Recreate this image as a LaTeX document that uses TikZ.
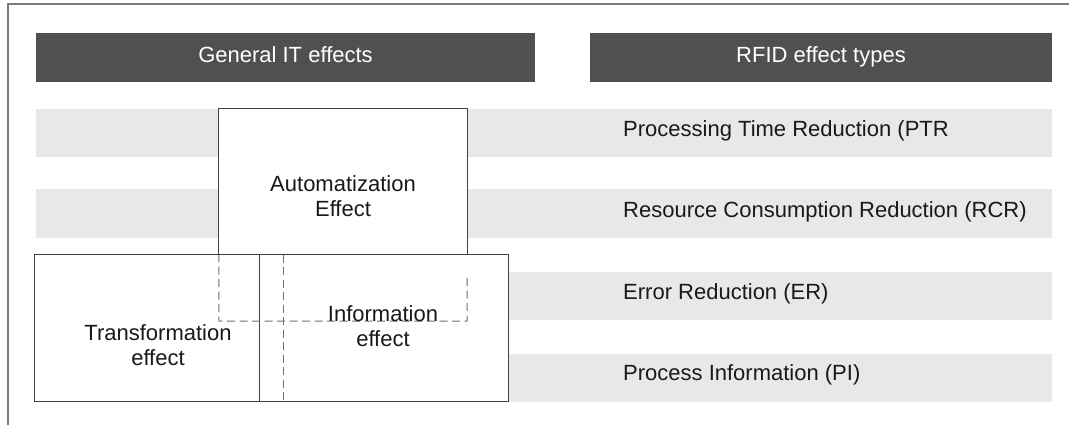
\documentclass[tikz,border=0pt]{standalone}
\usepackage{fontspec}
\setmainfont{Liberation Sans}
\definecolor{barcol}{HTML}{505050}
\definecolor{bandcol}{HTML}{E8E8E8}
\definecolor{framecol}{HTML}{7A7A7A}
\definecolor{boxline}{HTML}{404040}
\definecolor{dashcol}{HTML}{707070}
\tikzset{
  bar/.style={fill=barcol, draw=none, inner sep=0pt, minimum height=49pt, text=white,
    font=\fontsize{22}{26}\selectfont, text height=16pt, text depth=5pt},
  band/.style={fill=bandcol, draw=none, inner sep=0pt, minimum height=48pt, minimum width=1016pt},
  bandtext/.style={anchor=base west, inner sep=0pt, font=\fontsize{22}{26}\selectfont, text=black!90},
  effbox/.style={fill=white, draw=none, inner sep=0pt},
  efftext/.style={inner sep=0pt, align=center, font=\fontsize{22}{25}\selectfont, text=black!90},
  solidline/.style={draw=boxline, line width=1pt},
  hidden/.style={draw=dashcol, line width=1pt, dash pattern=on 8pt off 4.5pt},
  framel/.style={draw=framecol, line width=1.6pt}
}
\begin{document}
\begin{tikzpicture}[x=1pt, y=-1pt]
\useasboundingbox (0,0) rectangle (1069,425);
% outer frame (open right and bottom)
\coordinate (fa) at (8,425);
\coordinate (fb) at (8,4);
\coordinate (fc) at (1069,4);
\draw[framel] (fa) -- (fb) -- (fc);
% header bars
\node[bar, minimum width=499pt] (hdl) at (285.5,57.5) {General IT effects};
\node[bar, minimum width=462pt] (hdr) at (821,57.5) {RFID effect types};
% bands
\node[band] (b1) at (544,133) {};
\node[band] (b2) at (544,213.5) {};
\node[band] (b3) at (544,295.5) {};
\node[band] (b4) at (544,377.5) {};
\node[bandtext] (t1) at (623,137) {Processing Time Reduction (PTR};
\node[bandtext] (t2) at (623,217.5) {Resource Consumption Reduction (RCR)};
\node[bandtext] (t3) at (623,299) {Error Reduction (ER)};
\node[bandtext] (t4) at (623,380.5) {Process Information (PI)};
% white areas of the effect boxes
\node[effbox, minimum width=248pt, minimum height=146pt] (tr) at (159,328) {};
\node[effbox, minimum width=248pt, minimum height=146pt] (inf) at (384,328) {};
\node[effbox, minimum width=248pt, minimum height=146pt] (aut) at (343,182) {};
% outlines
\draw[solidline] (aut.south west) -- (aut.north west) -- (aut.north east) -- (aut.south east);
\draw[solidline] (tr.north east) -- (tr.north west) -- (tr.south west) -- (tr.south east);
\draw[solidline] (inf.north west) rectangle (inf.south east);
% hidden edges
\coordinate (ad1) at (467,278);
\coordinate (ad2) at (467,321);
\coordinate (ad3) at (219,321);
\draw[hidden] (ad1) -- (ad2) -- (ad3) -- (aut.south west);
\draw[hidden] (tr.north east) -- (tr.south east);
% texts
\node[efftext] (autt) at (343,196.5) {Automatization\\Effect};
\node[efftext] (trt) at (158,345.5) {Transformation\\effect};
\node[efftext] (inft) at (383,326.5) {Information\\effect};
\end{tikzpicture}
\end{document}
